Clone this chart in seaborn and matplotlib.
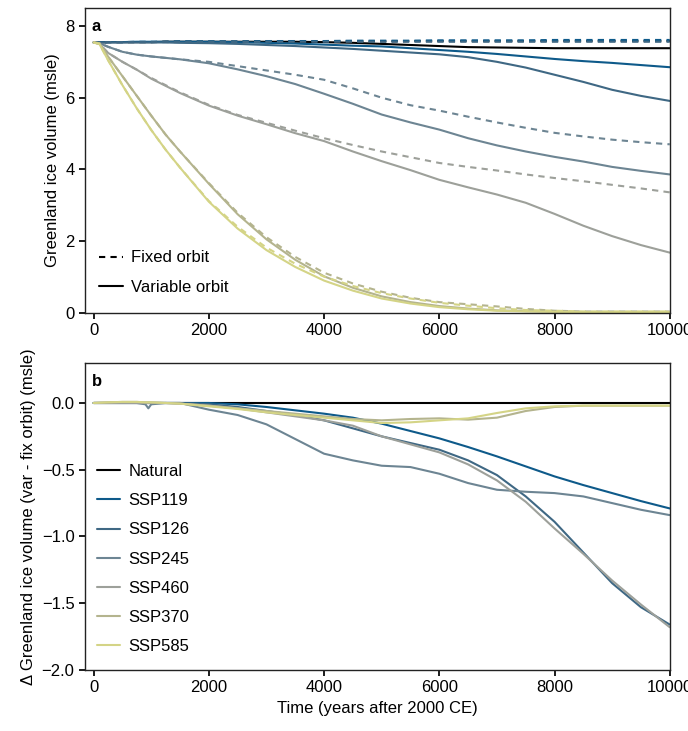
import matplotlib
matplotlib.use("Agg")
import matplotlib.pyplot as plt
from matplotlib.lines import Line2D
import seaborn as sns

# time axis (years after 2000 CE)
years = [0, 100, 250, 500, 750, 1000, 1250, 1500, 2000, 2500, 3000, 3500, 4000,
         4500, 5000, 5500, 6000, 6500, 7000, 7500, 8000, 8500, 9000, 9500, 10000]
years_b = [0, 250, 500, 750, 900, 950, 1000, 1250, 1500, 2000, 2500, 3000, 3500,
           4000, 4500, 5000, 5500, 6000, 6500, 7000, 7500, 8000, 8500, 9000, 9500, 10000]

scenarios = ["Natural", "SSP119", "SSP126", "SSP245", "SSP460", "SSP370", "SSP585"]
colors = ["#000000", "#0e5a8a", "#3f6884", "#6d8593", "#9da09a", "#b4b48e", "#d4d486"]

# panel a: Greenland ice volume (msle), fixed orbit
fix_nat = [7.54, 7.54, 7.55, 7.55, 7.55, 7.55, 7.56, 7.56, 7.56, 7.56, 7.57, 7.57, 7.57,
           7.57, 7.57, 7.58, 7.58, 7.58, 7.58, 7.58, 7.58, 7.58, 7.58, 7.58, 7.58]
fix_119 = [7.54, 7.55, 7.55, 7.55, 7.56, 7.56, 7.56, 7.57, 7.57, 7.57, 7.58, 7.58, 7.58,
           7.59, 7.59, 7.59, 7.60, 7.60, 7.60, 7.60, 7.61, 7.61, 7.61, 7.61, 7.61]
fix_126 = [7.54, 7.54, 7.55, 7.55, 7.55, 7.55, 7.55, 7.55, 7.55, 7.55, 7.56, 7.56, 7.56,
           7.56, 7.56, 7.56, 7.56, 7.56, 7.56, 7.56, 7.56, 7.56, 7.56, 7.56, 7.56]
fix_245 = [7.54, 7.52, 7.42, 7.28, 7.20, 7.15, 7.11, 7.07, 7.00, 6.88, 6.76, 6.64, 6.50,
           6.26, 6.00, 5.79, 5.64, 5.47, 5.31, 5.16, 5.02, 4.92, 4.83, 4.76, 4.70]
fix_460 = [7.54, 7.50, 7.25, 7.00, 6.78, 6.55, 6.35, 6.15, 5.80, 5.52, 5.30, 5.08, 4.87,
           4.68, 4.50, 4.34, 4.18, 4.07, 3.97, 3.86, 3.76, 3.67, 3.57, 3.47, 3.36]
fix_370 = [7.54, 7.52, 7.15, 6.60, 6.05, 5.50, 4.97, 4.50, 3.62, 2.79, 2.11, 1.56, 1.12,
           0.82, 0.59, 0.42, 0.30, 0.24, 0.18, 0.11, 0.06, 0.04, 0.04, 0.04, 0.04]
fix_585 = [7.54, 7.50, 7.05, 6.35, 5.70, 5.10, 4.55, 4.05, 3.12, 2.40, 1.82, 1.37, 1.01,
           0.75, 0.55, 0.40, 0.28, 0.20, 0.13, 0.08, 0.06, 0.04, 0.04, 0.04, 0.04]

# panel a: variable orbit
var_nat = [7.54, 7.54, 7.55, 7.55, 7.55, 7.55, 7.56, 7.56, 7.56, 7.56, 7.56, 7.56, 7.55,
           7.53, 7.50, 7.47, 7.44, 7.41, 7.40, 7.39, 7.38, 7.38, 7.38, 7.38, 7.38]
var_119 = [7.54, 7.55, 7.55, 7.55, 7.56, 7.56, 7.56, 7.56, 7.56, 7.55, 7.53, 7.51, 7.48,
           7.45, 7.43, 7.38, 7.33, 7.28, 7.22, 7.15, 7.08, 7.02, 6.97, 6.91, 6.85]
var_126 = [7.54, 7.54, 7.54, 7.54, 7.54, 7.54, 7.54, 7.53, 7.52, 7.50, 7.47, 7.44, 7.40,
           7.36, 7.31, 7.26, 7.21, 7.13, 7.00, 6.84, 6.64, 6.44, 6.22, 6.05, 5.91]
var_245 = [7.54, 7.52, 7.42, 7.28, 7.20, 7.15, 7.11, 7.07, 6.96, 6.79, 6.60, 6.38, 6.11,
           5.83, 5.53, 5.31, 5.11, 4.87, 4.67, 4.50, 4.35, 4.22, 4.07, 3.96, 3.86]
var_460 = [7.54, 7.50, 7.25, 7.00, 6.78, 6.53, 6.33, 6.13, 5.78, 5.50, 5.26, 5.01, 4.79,
           4.50, 4.23, 3.98, 3.71, 3.50, 3.30, 3.07, 2.76, 2.43, 2.14, 1.89, 1.68]
var_370 = [7.54, 7.52, 7.15, 6.60, 6.05, 5.50, 4.97, 4.50, 3.60, 2.75, 2.05, 1.48, 1.02,
           0.70, 0.46, 0.30, 0.19, 0.12, 0.07, 0.05, 0.03, 0.02, 0.02, 0.02, 0.02]
var_585 = [7.54, 7.50, 7.05, 6.35, 5.70, 5.10, 4.55, 4.05, 3.10, 2.35, 1.75, 1.28, 0.90,
           0.62, 0.40, 0.26, 0.16, 0.10, 0.06, 0.04, 0.03, 0.02, 0.02, 0.02, 0.02]

# panel b: difference var - fix orbit (msle)
d_nat = [0.0] * 26
d_119 = [0, 0, 0, 0, 0, 0, 0, 0, 0, 0, -0.01, -0.03, -0.055,
         -0.08, -0.11, -0.155, -0.21, -0.265, -0.33, -0.40, -0.475, -0.55, -0.615, -0.675, -0.735, -0.79]
d_126 = [0, 0, 0, 0, 0, 0, 0, 0, 0, -0.01, -0.03, -0.06, -0.09,
         -0.13, -0.19, -0.25, -0.30, -0.35, -0.43, -0.54, -0.70, -0.89, -1.12, -1.35, -1.53, -1.66]
d_245 = [0, 0, 0, 0, -0.01, -0.04, -0.01, 0, 0, -0.05, -0.09, -0.16, -0.27,
         -0.38, -0.43, -0.47, -0.48, -0.53, -0.60, -0.65, -0.665, -0.675, -0.70, -0.75, -0.80, -0.84]
d_460 = [0, 0, 0, 0, 0, 0, 0, 0, -0.005, -0.02, -0.04, -0.07, -0.10,
         -0.13, -0.17, -0.25, -0.31, -0.37, -0.46, -0.58, -0.74, -0.94, -1.13, -1.33, -1.51, -1.68]
d_370 = [0, 0.005, 0.008, 0.008, 0.005, 0.005, 0.005, 0, -0.005, -0.02, -0.04, -0.06, -0.08,
         -0.10, -0.12, -0.13, -0.12, -0.115, -0.125, -0.11, -0.06, -0.03, -0.02, -0.02, -0.02, -0.02]
d_585 = [0, 0.005, 0.008, 0.008, 0.005, 0.005, 0.005, 0, -0.005, -0.025, -0.045, -0.07, -0.09,
         -0.11, -0.13, -0.15, -0.145, -0.13, -0.115, -0.075, -0.04, -0.025, -0.02, -0.02, -0.02, -0.02]

fixed = [fix_nat, fix_119, fix_126, fix_245, fix_460, fix_370, fix_585]
variable = [var_nat, var_119, var_126, var_245, var_460, var_370, var_585]
diffs = [d_nat, d_119, d_126, d_245, d_460, d_370, d_585]

sns.set_theme(style="ticks")
plt.rcParams["font.family"] = ["Liberation Sans", "DejaVu Sans"]
plt.rcParams["font.size"] = 12
plt.rcParams["text.color"] = "black"
plt.rcParams["axes.labelcolor"] = "black"
plt.rcParams["xtick.color"] = "black"
plt.rcParams["ytick.color"] = "black"
plt.rcParams["axes.edgecolor"] = "#222222"
plt.rcParams["axes.linewidth"] = 1.0
plt.rcParams["xtick.major.size"] = 4
plt.rcParams["ytick.major.size"] = 4

DASH = (0, (3, 2.5))
LW = 1.5

fig = plt.figure(figsize=(6.88, 7.31), dpi=100)
ax_a = fig.add_axes([0.1235, 0.572, 0.850, 0.417])
ax_b = fig.add_axes([0.1235, 0.0835, 0.850, 0.420])

# Panel a
for name, c, f, v in zip(scenarios, colors, fixed, variable):
    sns.lineplot(x=years, y=f, ax=ax_a, color=c, lw=LW, linestyle=DASH)
    sns.lineplot(x=years, y=v, ax=ax_a, color=c, lw=LW)

ax_a.set_xlim(-150, 10000)
ax_a.set_ylim(0, 8.5)
ax_a.set_xticks([0, 2000, 4000, 6000, 8000, 10000])
ax_a.set_yticks([0, 2, 4, 6, 8])
ax_a.set_ylabel("Greenland ice volume (msle)", fontsize=12)
ax_a.tick_params(labelsize=12)
handles = [Line2D([], [], color="black", lw=LW, linestyle=DASH),
           Line2D([], [], color="black", lw=LW)]
ax_a.legend(handles, ["Fixed orbit", "Variable orbit"], loc="lower left", frameon=False,
            fontsize=12, handlelength=1.4, handletextpad=0.5, labelspacing=0.85,
            borderaxespad=0.7, bbox_to_anchor=(-0.007, 0.0))
ax_a.text(0.012, 0.965, "a", transform=ax_a.transAxes, fontsize=12, fontweight="bold",
          va="top", ha="left")

# Panel b
for name, c, d in zip(scenarios, colors, diffs):
    sns.lineplot(x=years_b, y=d, ax=ax_b, color=c, lw=LW, label=name, legend=False)

ax_b.set_xlim(-150, 10000)
ax_b.set_ylim(-2.0, 0.3)
ax_b.set_xticks([0, 2000, 4000, 6000, 8000, 10000])
ax_b.set_yticks([0.0, -0.5, -1.0, -1.5, -2.0])
ax_b.set_yticklabels(["0.0", "\u22120.5", "\u22121.0", "\u22121.5", "\u22122.0"])
ax_b.set_xlabel("Time (years after 2000 CE)", fontsize=12)
ax_b.set_ylabel("\u0394 Greenland ice volume (var - fix orbit) (msle)", fontsize=12)
ax_b.tick_params(labelsize=12)
ax_b.legend(loc="lower left", frameon=False, fontsize=12, handlelength=1.4,
            handletextpad=0.5, labelspacing=0.85, borderaxespad=0.55,
            bbox_to_anchor=(-0.007, 0.0))
ax_b.text(0.012, 0.965, "b", transform=ax_b.transAxes, fontsize=12, fontweight="bold",
          va="top", ha="left")

fig.savefig("out.png", dpi=100)
